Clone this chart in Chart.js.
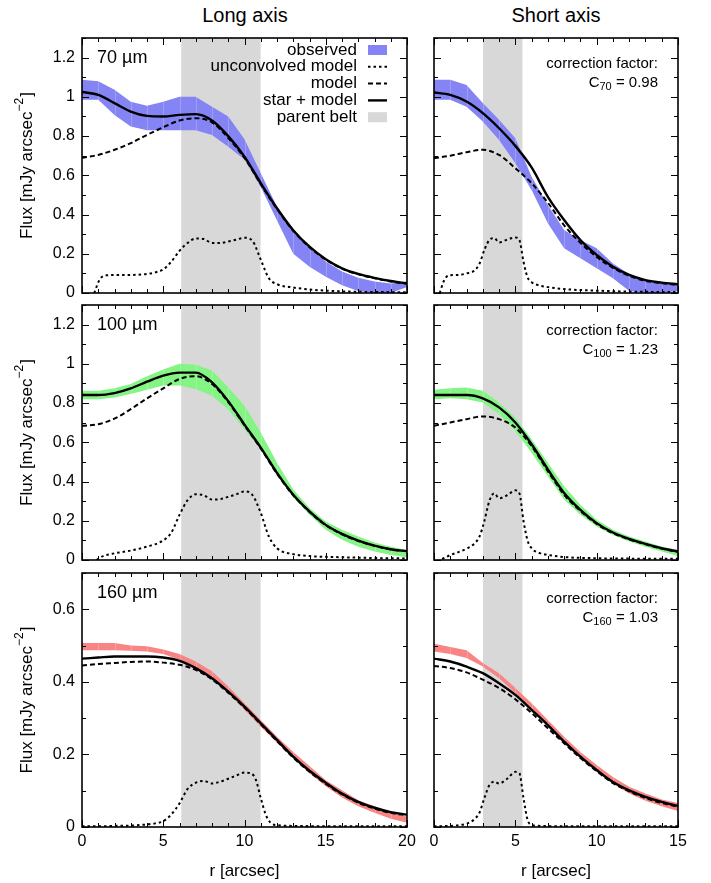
<!DOCTYPE html>
<html>
<head>
<meta charset="utf-8">
<script src="https://cdn.jsdelivr.net/npm/chart.js@4.4.0/dist/chart.umd.min.js"></script>
<style>
  body { margin: 0; background: #fff; width: 711px; height: 883px; position: relative; overflow: hidden;
         font-family: "Liberation Sans", Arial, sans-serif; }
  canvas { position: absolute; }
  .col { position: absolute; top: 4px; width: 200px; text-align: center; font-size: 20px; line-height: 22px; }
</style>
</head>
<body>
<div class="col" style="left:145px">Long axis</div>
<div class="col" style="left:456px">Short axis</div>

<canvas id="p70L"></canvas>
<canvas id="p70S"></canvas>
<canvas id="p100L"></canvas>
<canvas id="p100S"></canvas>
<canvas id="p160L"></canvas>
<canvas id="p160S"></canvas>

<script>
// radial profiles, r in arcsec, flux in mJy/arcsec^2
const rLong  = [0, 1, 2, 3, 4, 5, 6, 7, 8, 9, 10, 11, 12, 13, 14, 15, 16, 17, 18, 19, 20];
const rShort = [0, 1, 2, 3, 4, 5, 6, 7, 8, 9, 10, 11, 12, 13, 14, 15];

// parent belt extent along each axis
const beltLong  = [6.1, 11.0];
const beltShort = [3.0, 5.45];

// 70 micron
const obs70LongHi  = [1.087, 1.08, 1.036, 0.975, 0.955, 0.975, 1.0, 1.0, 0.95, 0.9, 0.784, 0.61, 0.44, 0.32, 0.23, 0.16, 0.109, 0.078, 0.058, 0.048, 0.06];
const obs70LongLo  = [0.985, 0.985, 0.908, 0.849, 0.83, 0.83, 0.83, 0.83, 0.806, 0.746, 0.68, 0.54, 0.37, 0.2, 0.134, 0.083, 0.04, 0.01, 0, 0, 0.03];
const star70Long   = [1.025, 1.01, 0.968, 0.925, 0.903, 0.9, 0.908, 0.912, 0.88, 0.8, 0.695, 0.56, 0.432, 0.32, 0.236, 0.172, 0.126, 0.097, 0.077, 0.061, 0.049];
const model70Long  = [0.69, 0.704, 0.73, 0.764, 0.806, 0.845, 0.879, 0.891, 0.87, 0.79, 0.688, 0.555, 0.428, 0.317, 0.233, 0.17, 0.124, 0.095, 0.075, 0.059, 0.047];
const unconvR70Long = [0.75, 1.1, 1.5, 2, 3, 4, 4.5, 5, 5.5, 6, 6.5, 7, 7.5, 8, 8.5, 9, 9.5, 10, 10.5, 11, 11.5, 12, 13, 14, 15, 16, 18, 20];
const unconv70Long  = [0, 0.07, 0.09, 0.092, 0.092, 0.097, 0.105, 0.12, 0.16, 0.215, 0.255, 0.278, 0.275, 0.255, 0.255, 0.262, 0.272, 0.282, 0.265, 0.17, 0.075, 0.045, 0.028, 0.018, 0.012, 0.008, 0.005, 0.004];

const obs70ShortHi = [1.087, 1.087, 1.061, 0.968, 0.883, 0.789, 0.593, 0.449, 0.321, 0.27, 0.228, 0.151, 0.097, 0.066, 0.049, 0.041];
const obs70ShortLo = [0.985, 0.985, 0.95, 0.874, 0.78, 0.662, 0.525, 0.356, 0.228, 0.177, 0.126, 0.075, 0.01, 0, 0, 0.01];
const star70Short  = [1.022, 1.01, 0.976, 0.917, 0.84, 0.75, 0.64, 0.49, 0.372, 0.27, 0.194, 0.134, 0.092, 0.066, 0.053, 0.044];
const model70Short = [0.687, 0.7, 0.718, 0.73, 0.704, 0.636, 0.56, 0.46, 0.345, 0.256, 0.184, 0.128, 0.088, 0.062, 0.05, 0.041];
const unconvR70Short = [0.35, 0.6, 0.9, 1.5, 2, 2.5, 2.8, 3.1, 3.4, 3.7, 4, 4.5, 5, 5.25, 5.5, 5.75, 6, 6.5, 7, 8, 10, 12, 15];
const unconv70Short  = [0, 0.06, 0.09, 0.092, 0.1, 0.115, 0.15, 0.22, 0.27, 0.28, 0.258, 0.272, 0.283, 0.27, 0.16, 0.08, 0.055, 0.038, 0.03, 0.02, 0.012, 0.007, 0.005];

// 100 micron
const obs100LongHi  = [0.863, 0.863, 0.875, 0.897, 0.937, 0.971, 1.0, 0.995, 0.966, 0.88, 0.786, 0.65, 0.496, 0.359, 0.265, 0.196, 0.154, 0.12, 0.089, 0.068, 0.051];
const obs100LongLo  = [0.82, 0.82, 0.829, 0.846, 0.868, 0.889, 0.889, 0.872, 0.837, 0.769, 0.667, 0.565, 0.43, 0.32, 0.231, 0.154, 0.103, 0.068, 0.043, 0.026, 0.014];
const star100Long   = [0.841, 0.841, 0.851, 0.875, 0.909, 0.94, 0.955, 0.955, 0.906, 0.81, 0.69, 0.573, 0.444, 0.333, 0.248, 0.179, 0.133, 0.099, 0.073, 0.055, 0.045];
const model100Long  = [0.684, 0.692, 0.721, 0.769, 0.824, 0.875, 0.923, 0.937, 0.897, 0.805, 0.686, 0.569, 0.44, 0.33, 0.245, 0.177, 0.131, 0.097, 0.072, 0.054, 0.044];
const unconvR100Long = [0.9, 1.3, 2, 3, 4, 5, 5.5, 6, 6.5, 7, 7.5, 8, 8.5, 9, 9.5, 10, 10.5, 11, 11.5, 12, 13, 14, 16, 18, 20];
const unconv100Long  = [0, 0.02, 0.034, 0.048, 0.068, 0.1, 0.14, 0.23, 0.305, 0.335, 0.33, 0.308, 0.31, 0.322, 0.335, 0.35, 0.33, 0.24, 0.12, 0.06, 0.03, 0.02, 0.014, 0.01, 0.008];

const obs100ShortHi = [0.868, 0.875, 0.88, 0.863, 0.803, 0.726, 0.615, 0.496, 0.376, 0.282, 0.205, 0.154, 0.12, 0.094, 0.068, 0.051];
const obs100ShortLo = [0.82, 0.824, 0.82, 0.803, 0.744, 0.658, 0.547, 0.427, 0.308, 0.231, 0.171, 0.128, 0.094, 0.068, 0.043, 0.021];
const star100Short  = [0.841, 0.841, 0.841, 0.824, 0.778, 0.701, 0.59, 0.462, 0.342, 0.256, 0.188, 0.14, 0.108, 0.082, 0.06, 0.043];
const model100Short = [0.684, 0.701, 0.718, 0.732, 0.718, 0.675, 0.581, 0.453, 0.333, 0.25, 0.184, 0.137, 0.105, 0.08, 0.058, 0.041];
const unconvR100Short = [0.5, 1, 1.5, 2, 2.5, 2.8, 3.1, 3.4, 3.7, 4, 4.5, 5, 5.25, 5.5, 5.75, 6, 6.5, 7, 8, 10, 12, 15];
const unconv100Short  = [0.005, 0.025, 0.04, 0.058, 0.085, 0.12, 0.2, 0.3, 0.34, 0.315, 0.33, 0.355, 0.34, 0.2, 0.1, 0.06, 0.035, 0.026, 0.015, 0.009, 0.007, 0.006];

// 160 micron
const obs160LongHi  = [0.507, 0.507, 0.507, 0.5, 0.498, 0.489, 0.477, 0.456, 0.429, 0.387, 0.341, 0.295, 0.249, 0.207, 0.168, 0.129, 0.101, 0.074, 0.057, 0.041, 0.028];
const obs160LongLo  = [0.487, 0.487, 0.487, 0.486, 0.484, 0.477, 0.461, 0.437, 0.408, 0.369, 0.323, 0.276, 0.232, 0.189, 0.148, 0.112, 0.081, 0.057, 0.039, 0.023, 0.012];
const star160Long   = [0.464, 0.467, 0.47, 0.47, 0.47, 0.467, 0.458, 0.438, 0.41, 0.373, 0.332, 0.286, 0.24, 0.194, 0.155, 0.122, 0.092, 0.069, 0.053, 0.041, 0.034];
const model160Long  = [0.445, 0.449, 0.452, 0.455, 0.456, 0.453, 0.447, 0.433, 0.407, 0.37, 0.329, 0.283, 0.237, 0.191, 0.152, 0.119, 0.09, 0.067, 0.051, 0.039, 0.032];
const unconvR160Long = [0, 1, 2, 3, 4, 4.5, 5, 5.5, 6, 6.5, 7, 7.5, 8, 8.5, 9, 9.5, 10, 10.4, 10.7, 11, 11.3, 11.6, 12, 13, 15, 20];
const unconv160Long  = [0.002, 0.002, 0.003, 0.004, 0.007, 0.01, 0.016, 0.035, 0.065, 0.105, 0.122, 0.127, 0.12, 0.125, 0.133, 0.142, 0.15, 0.148, 0.13, 0.08, 0.035, 0.012, 0.005, 0.003, 0.002, 0.002];

const obs160ShortHi = [0.505, 0.496, 0.487, 0.452, 0.424, 0.383, 0.341, 0.295, 0.249, 0.207, 0.171, 0.138, 0.111, 0.092, 0.076, 0.066];
const obs160ShortLo = [0.484, 0.477, 0.466, 0.442, 0.41, 0.369, 0.323, 0.276, 0.231, 0.189, 0.152, 0.12, 0.092, 0.072, 0.057, 0.044];
const star160Short  = [0.464, 0.456, 0.442, 0.424, 0.396, 0.364, 0.323, 0.281, 0.235, 0.194, 0.157, 0.124, 0.101, 0.083, 0.069, 0.058];
const model160Short = [0.444, 0.438, 0.426, 0.406, 0.383, 0.352, 0.314, 0.272, 0.231, 0.19, 0.154, 0.121, 0.098, 0.08, 0.066, 0.056];
const unconvR160Short = [0, 1, 1.5, 2, 2.5, 2.8, 3.1, 3.4, 3.7, 4, 4.5, 5, 5.25, 5.5, 5.75, 6, 6.5, 8, 10, 15];
const unconv160Short  = [0.002, 0.003, 0.005, 0.009, 0.022, 0.04, 0.08, 0.115, 0.125, 0.12, 0.133, 0.152, 0.148, 0.08, 0.02, 0.006, 0.003, 0.002, 0.002, 0.002];

const corrLabels = ['70', '100', '160'];
const corrValues = ['0.98', '1.23', '1.03'];

const FONT = '"Liberation Sans", Arial, Helvetica, sans-serif';
const BLUE = '#8484f4', GREEN = '#84f484', RED = '#f88484', GREY = '#d8d8d8';

const pts = (xs, ys) => xs.map((x, i) => ({ x: x, y: ys[i] }));

// inward ticks on all four sides + frame, gnuplot style
const frameTicks = {
  id: 'frameTicks',
  afterDatasetsDraw(chart) {
    const { ctx, chartArea: a, scales: { x, y } } = chart;
    ctx.save();
    ctx.strokeStyle = '#000';
    ctx.lineWidth = 1;
    ctx.beginPath();
    for (let i = 0; i <= x.max; i++) {
      const px = Math.round(x.getPixelForValue(i)) + 0.5;
      const len = i % 5 === 0 ? 7 : 4;
      ctx.moveTo(px, a.top); ctx.lineTo(px, a.top + len);
      ctx.moveTo(px, a.bottom); ctx.lineTo(px, a.bottom - len);
    }
    for (let i = 0; i <= Math.round(y.max * 10); i++) {
      const py = Math.round(y.getPixelForValue(i / 10)) + 0.5;
      const len = i % 2 === 0 ? 7 : 4;
      ctx.moveTo(a.left, py); ctx.lineTo(a.left + len, py);
      ctx.moveTo(a.right, py); ctx.lineTo(a.right - len, py);
    }
    ctx.stroke();
    ctx.lineWidth = 1.6;
    ctx.strokeRect(a.left, a.top, a.right - a.left, a.bottom - a.top);
    ctx.restore();
  }
};

function drawYTitle(ctx, cx, cy) {
  const f = '17px ' + FONT, fs = '12px ' + FONT;
  const a = 'Flux [mJy arcsec', sup = '\u22122', b = ']';
  ctx.font = f;
  const wa = ctx.measureText(a).width, wb = ctx.measureText(b).width;
  ctx.font = fs;
  const ws = ctx.measureText(sup).width;
  const total = wa + ws + wb + 1;
  ctx.save();
  ctx.translate(cx, cy);
  ctx.rotate(-Math.PI / 2);
  ctx.textBaseline = 'middle';
  ctx.textAlign = 'left';
  ctx.fillStyle = '#000';
  let x = -total / 2;
  ctx.font = f; ctx.fillText(a, x, 0); x += wa;
  ctx.font = fs; ctx.fillText(sup, x, -7); x += ws + 1;
  ctx.font = f; ctx.fillText(b, x, 0);
  ctx.restore();
}

function drawCorrection(ctx, right, top, sub, val) {
  const f = '15px ' + FONT, fs = '11px ' + FONT;
  ctx.save();
  ctx.fillStyle = '#000';
  ctx.textBaseline = 'middle';
  ctx.textAlign = 'right';
  ctx.font = f;
  ctx.fillText('correction factor:', right, top + 26);
  const tail = ' = ' + val;
  const wt = ctx.measureText(tail).width;
  const wc = ctx.measureText('C').width;
  ctx.font = fs;
  const wsub = ctx.measureText(sub).width;
  ctx.textAlign = 'left';
  let x = right - wt - wsub - wc;
  ctx.font = f; ctx.fillText('C', x, top + 45); x += wc;
  ctx.font = fs; ctx.fillText(sub, x, top + 49); x += wsub;
  ctx.font = f; ctx.fillText(tail, x, top + 45);
  ctx.restore();
}

function drawKey(ctx, a) {
  const tx = a.right - 50, s0 = a.right - 39, s1 = a.right - 20;
  const rows = ['observed', 'unconvolved model', 'model', 'star + model', 'parent belt'];
  ctx.save();
  ctx.font = '17px ' + FONT;
  ctx.textAlign = 'right';
  ctx.textBaseline = 'middle';
  rows.forEach((t, i) => {
    const yy = a.top + 12 + i * 16.8;
    ctx.fillStyle = '#000';
    ctx.fillText(t, tx, yy);
    if (i === 0 || i === 4) {
      ctx.fillStyle = i === 0 ? BLUE : GREY;
      ctx.fillRect(s0, yy - 5, s1 - s0, 10);
    } else {
      ctx.strokeStyle = '#000';
      ctx.lineWidth = i === 3 ? 2.4 : 2;
      ctx.setLineDash(i === 1 ? [2.5, 3] : i === 2 ? [5, 3] : []);
      ctx.beginPath();
      ctx.moveTo(s0, yy); ctx.lineTo(s1, yy);
      ctx.stroke();
      ctx.setLineDash([]);
    }
  });
  ctx.restore();
}

// labels, key, correction factors and the faint seams of the observed band
const panelDecor = {
  id: 'panelDecor',
  afterDatasetDraw(chart, args, o) {
    if (args.index !== 3) return;
    const { ctx, scales: { x, y } } = chart;
    const hi = chart.data.datasets[3].data, lo = chart.data.datasets[4].data;
    ctx.save();
    ctx.strokeStyle = 'rgba(255,255,255,0.22)';
    ctx.lineWidth = 1;
    ctx.beginPath();
    for (let i = 1; i < hi.length - 1; i++) {
      const px = Math.round(x.getPixelForValue(hi[i].x)) + 0.5;
      ctx.moveTo(px, y.getPixelForValue(hi[i].y));
      ctx.lineTo(px, y.getPixelForValue(lo[i].y));
    }
    ctx.stroke();
    ctx.restore();
  },
  afterDraw(chart, args, o) {
    const { ctx, chartArea: a } = chart;
    if (o.label) {
      ctx.save();
      ctx.font = '18px ' + FONT;
      ctx.fillStyle = '#000';
      ctx.textBaseline = 'middle';
      ctx.fillText(o.label, a.left + 15, a.top + 20);
      ctx.restore();
    }
    if (o.yTitle) drawYTitle(ctx, 27, (a.top + a.bottom) / 2);
    if (o.key) drawKey(ctx, a);
    if (o.corr) drawCorrection(ctx, a.right - 20, a.top, o.corr[0], o.corr[1]);
  }
};

function makePanel(p) {
  const cv = document.getElementById(p.id);
  cv.width = p.w; cv.height = p.h;
  cv.style.width = p.w + 'px'; cv.style.height = p.h + 'px';
  cv.style.left = p.left + 'px'; cv.style.top = p.top + 'px';
  const lineDefaults = { pointRadius: 0, tension: 0 };
  const datasets = [
    { data: pts(p.r, p.star), borderColor: '#000', borderWidth: 2.4, cubicInterpolationMode: 'monotone' },
    { data: pts(p.r, p.model), borderColor: '#000', borderWidth: 2, borderDash: [5, 3], cubicInterpolationMode: 'monotone' },
    { data: pts(p.uR, p.uY), borderColor: '#000', borderWidth: 2, borderDash: [2.5, 3], cubicInterpolationMode: 'monotone' },
    { data: pts(p.r, p.hi), borderColor: 'transparent', borderWidth: 0, fill: '+1', backgroundColor: p.color },
    { data: pts(p.r, p.lo), borderColor: 'transparent', borderWidth: 0, fill: false },
    { data: pts(p.belt, [p.yMax, p.yMax]), borderColor: 'transparent', borderWidth: 0, fill: 'origin', backgroundColor: GREY }
  ].map(d => Object.assign({}, lineDefaults, d));

  const yWidth = p.showY ? 82 : 0;
  return new Chart(cv, {
    type: 'line',
    data: { datasets: datasets },
    plugins: [frameTicks, panelDecor],
    options: {
      responsive: false,
      maintainAspectRatio: false,
      animation: false,
      events: [],
      layout: { padding: p.pad },
      plugins: {
        legend: { display: false },
        tooltip: { enabled: false },
        panelDecor: { label: p.label, yTitle: p.yTitle, key: p.key, corr: p.corr }
      },
      scales: {
        x: {
          type: 'linear', min: 0, max: p.r[p.r.length - 1],
          display: p.showX,
          grid: { display: false, drawTicks: false },
          border: { display: false },
          ticks: { stepSize: 5, padding: 5, color: '#000', maxRotation: 0, includeBounds: false,
                   font: { size: 16, family: FONT } },
          title: { display: true, text: 'r [arcsec]', color: '#000', font: { size: 17, family: FONT },
                   padding: { top: 2, bottom: 1 } },
          afterFit(s) { s.height = p.showX ? 56 : 0; s.paddingLeft = 0; s.paddingRight = 0; }
        },
        y: {
          type: 'linear', min: 0, max: p.yMax,
          display: p.showY,
          grid: { display: false, drawTicks: false },
          border: { display: false },
          ticks: { stepSize: 0.2, padding: 7, color: '#000', includeBounds: false,
                   font: { size: 16, family: FONT },
                   callback: v => String(Math.round(v * 10) / 10) },
          afterFit(s) { s.width = yWidth; s.paddingTop = 0; s.paddingBottom = 0; }
        }
      }
    }
  });
}

const rows = [
  { top: 28, h: 276, pad: { top: 10, bottom: 11 }, yMax: 1.3, showX: false },
  { top: 295, h: 275, pad: { top: 10, bottom: 10 }, yMax: 1.3, showX: false },
  { top: 563, h: 320, pad: { top: 10, bottom: 0 }, yMax: 0.7, showX: true }
];
const leftCol  = { left: 0, w: 430, padL: 0, padR: 23, showY: true };
const rightCol = { left: 410, w: 301, padL: 24, padR: 33, showY: false };

const profiles = [
  { id: 'p70L', row: 0, col: leftCol, r: rLong, hi: obs70LongHi, lo: obs70LongLo, star: star70Long, model: model70Long,
    uR: unconvR70Long, uY: unconv70Long, belt: beltLong, color: BLUE, label: '70 \u00b5m', key: true },
  { id: 'p70S', row: 0, col: rightCol, r: rShort, hi: obs70ShortHi, lo: obs70ShortLo, star: star70Short, model: model70Short,
    uR: unconvR70Short, uY: unconv70Short, belt: beltShort, color: BLUE, corr: [corrLabels[0], corrValues[0]] },
  { id: 'p100L', row: 1, col: leftCol, r: rLong, hi: obs100LongHi, lo: obs100LongLo, star: star100Long, model: model100Long,
    uR: unconvR100Long, uY: unconv100Long, belt: beltLong, color: GREEN, label: '100 \u00b5m' },
  { id: 'p100S', row: 1, col: rightCol, r: rShort, hi: obs100ShortHi, lo: obs100ShortLo, star: star100Short, model: model100Short,
    uR: unconvR100Short, uY: unconv100Short, belt: beltShort, color: GREEN, corr: [corrLabels[1], corrValues[1]] },
  { id: 'p160L', row: 2, col: leftCol, r: rLong, hi: obs160LongHi, lo: obs160LongLo, star: star160Long, model: model160Long,
    uR: unconvR160Long, uY: unconv160Long, belt: beltLong, color: RED, label: '160 \u00b5m' },
  { id: 'p160S', row: 2, col: rightCol, r: rShort, hi: obs160ShortHi, lo: obs160ShortLo, star: star160Short, model: model160Short,
    uR: unconvR160Short, uY: unconv160Short, belt: beltShort, color: RED, corr: [corrLabels[2], corrValues[2]] }
];

profiles.forEach(p => {
  const row = rows[p.row], col = p.col;
  makePanel(Object.assign({}, p, {
    left: col.left, w: col.w, top: row.top, h: row.h,
    pad: { left: col.padL, right: col.padR, top: row.pad.top, bottom: row.pad.bottom },
    yMax: row.yMax, showX: row.showX, showY: col.showY,
    yTitle: col.showY
  }));
});
</script>
</body>
</html>
